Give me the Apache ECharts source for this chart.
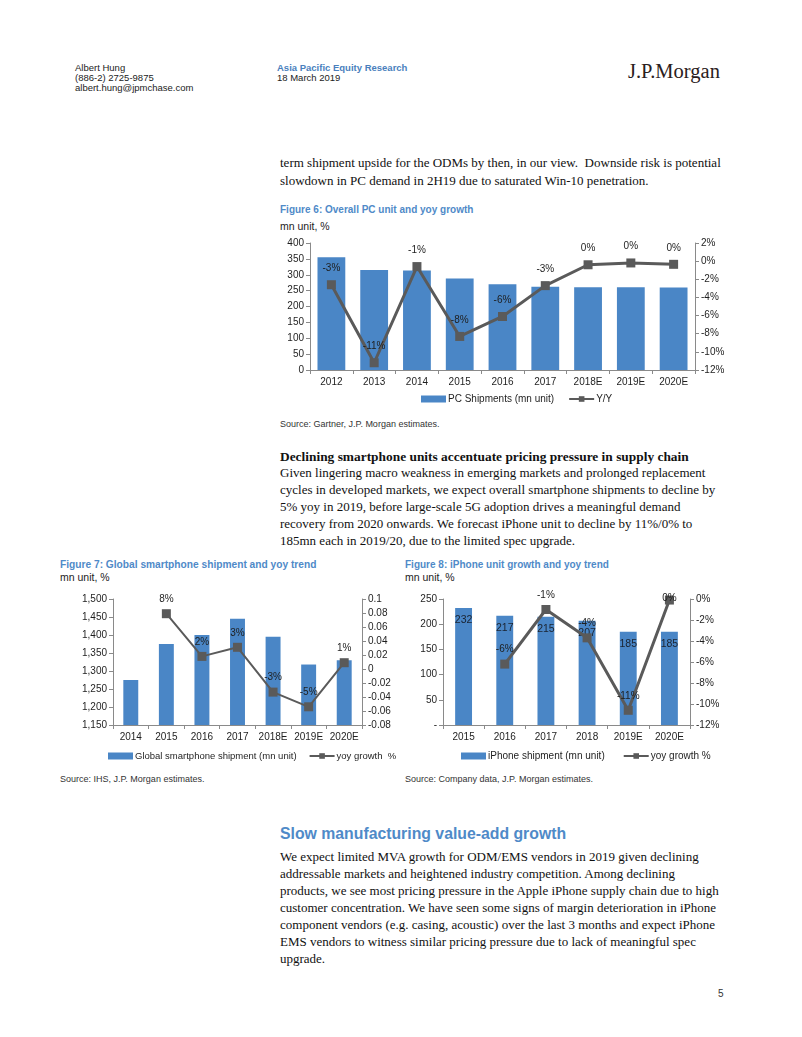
<!DOCTYPE html>
<html><head><meta charset="utf-8">
<script src="https://cdn.jsdelivr.net/npm/echarts@6/dist/echarts.min.js"></script>
<style>
html,body{margin:0;padding:0;background:#fff;}
body{width:802px;height:1037px;position:relative;overflow:hidden;font-family:"Liberation Sans",Arial,sans-serif;}
.t{position:absolute;white-space:nowrap;line-height:1;}
.hd{font-size:9.5px;color:#222;}
.blue{color:#4a7fbd;}
.serif{font-family:"Liberation Serif","Times New Roman",serif;font-size:13px;color:#111;}
.ft{font-size:10px;font-weight:bold;color:#4f8ac8;}
.mu{font-size:10.5px;color:#222;}
.src{font-size:9px;color:#333;}
.chart{position:absolute;}
</style></head><body>
<div class="t hd" style="left:75px;top:63px">Albert Hung</div>
<div class="t hd" style="left:75px;top:73px">(886-2) 2725-9875</div>
<div class="t hd" style="left:75px;top:83px">albert.hung@jpmchase.com</div>
<div class="t hd blue" style="left:277px;top:63px;font-weight:bold">Asia Pacific Equity Research</div>
<div class="t hd" style="left:277px;top:73px">18 March 2019</div>
<div class="t" style="left:628px;top:61px;font-family:'Liberation Serif',serif;font-size:20.5px;color:#2a2020">J.P.Morgan</div>

<div class="t serif" style="left:280px;top:156px">term shipment upside for the ODMs by then, in our view.&nbsp; Downside risk is potential</div>
<div class="t serif" style="left:280px;top:174px">slowdown in PC demand in 2H19 due to saturated Win-10 penetration.</div>

<div class="t ft" style="left:280px;top:205px">Figure 6: Overall PC unit and yoy growth</div>
<div class="t mu" style="left:280px;top:221px">mn unit, %</div>
<div id="c6" class="chart" style="left:270px;top:228px;width:460px;height:187px"></div>
<div class="t src" style="left:280px;top:420px">Source: Gartner, J.P. Morgan estimates.</div>

<div class="t serif" style="left:280px;top:450px;font-weight:bold;font-size:13.4px">Declining smartphone units accentuate pricing pressure in supply chain</div>
<div class="t serif" style="left:280px;top:466px">Given lingering macro weakness in emerging markets and prolonged replacement</div>
<div class="t serif" style="left:280px;top:483px">cycles in developed markets, we expect overall smartphone shipments to decline by</div>
<div class="t serif" style="left:280px;top:500px">5% yoy in 2019, before large-scale 5G adoption drives a meaningful demand</div>
<div class="t serif" style="left:280px;top:517px">recovery from 2020 onwards. We forecast iPhone unit to decline by 11%/0% to</div>
<div class="t serif" style="left:280px;top:534px">185mn each in 2019/20, due to the limited spec upgrade.</div>

<div class="t ft" style="left:60px;top:560px;font-size:10.2px">Figure 7: Global smartphone shipment and yoy trend</div>
<div class="t mu" style="left:60px;top:572px">mn unit, %</div>
<div id="c7" class="chart" style="left:60px;top:582px;width:340px;height:183px"></div>
<div class="t src" style="left:60px;top:775px">Source: IHS, J.P. Morgan estimates.</div>

<div class="t ft" style="left:405px;top:560px">Figure 8: iPhone unit growth and yoy trend</div>
<div class="t mu" style="left:405px;top:572px">mn unit, %</div>
<div id="c8" class="chart" style="left:400px;top:582px;width:340px;height:183px"></div>
<div class="t src" style="left:405px;top:775px">Source: Company data, J.P. Morgan estimates.</div>

<div class="t" style="left:280px;top:826px;font-size:15.8px;font-weight:bold;color:#4f8ac8">Slow manufacturing value-add growth</div>
<div class="t serif" style="left:280px;top:850px">We expect limited MVA growth for ODM/EMS vendors in 2019 given declining</div>
<div class="t serif" style="left:280px;top:867px">addressable markets and heightened industry competition. Among declining</div>
<div class="t serif" style="left:280px;top:884px">products, we see most pricing pressure in the Apple iPhone supply chain due to high</div>
<div class="t serif" style="left:280px;top:901px">customer concentration. We have seen some signs of margin deterioration in iPhone</div>
<div class="t serif" style="left:280px;top:918px">component vendors (e.g. casing, acoustic) over the last 3 months and expect iPhone</div>
<div class="t serif" style="left:280px;top:935px">EMS vendors to witness similar pricing pressure due to lack of meaningful spec</div>
<div class="t serif" style="left:280px;top:952px">upgrade.</div>
<div class="t" style="left:718px;top:989px;font-size:10px;color:#333">5</div>

<script>
// Figure 6
const pcYears = ['2012','2013','2014','2015','2016','2017','2018E','2019E','2020E'];
const pcShipments = [355, 315, 313, 288, 270, 262, 261, 261, 260];
const pcYoY = [-2.6, -11.2, -0.6, -8.3, -6.1, -2.7, -0.4, -0.2, -0.35];
const pcLeftTicks = {min: 0, max: 400, interval: 50};
const pcRightTicks = {min: -12, max: 2, interval: 2};

// Figure 7
const spYears = ['2014','2015','2016','2017','2018E','2019E','2020E'];
const spShipments = [1275, 1375, 1400, 1445, 1395, 1318, 1330];
const spYoY = [null, 0.079, 0.018, 0.031, -0.033, -0.054, 0.009];
const spLeftTicks = {min: 1150, max: 1500, interval: 50};
const spRightTicks = {min: -0.08, max: 0.1, interval: 0.02};

// Figure 8
const ipYears = ['2015','2016','2017','2018','2019E','2020E'];
const ipShipments = [232, 217, 215, 207, 185, 185];
const ipYoY = [null, -6.2, -1.0, -3.7, -10.6, -0.1];
const ipLeftTicks = {min: 0, max: 250, interval: 50};
const ipRightTicks = {min: -12, max: 0, interval: 2};

const BAR = '#4a86c6';
const LINE = '#5a5a5a';
const FONT = 'Liberation Sans';
const TXT = '#1e1e1e';
const AX = '#8a8a8a';
const FS = 10;

function pct(v){ const r = Math.round(v); return (r === 0 ? 0 : r) + '%'; }

function axisY(cfg, pos, fmt){
  return {
    type: 'value', position: pos, min: cfg.min, max: cfg.max, interval: cfg.interval,
    axisLine: {show: true, lineStyle: {color: AX, width: 1}},
    axisTick: {show: true, length: 4, lineStyle: {color: AX}},
    splitLine: {show: false},
    axisLabel: {color: TXT, fontFamily: FONT, fontSize: FS, margin: 6, formatter: fmt}
  };
}
function axisX(cats){
  return {
    type: 'category', data: cats, boundaryGap: true,
    axisLine: {onZero: false, lineStyle: {color: AX}},
    axisTick: {show: true, length: 4, alignWithLabel: false, lineStyle: {color: AX}},
    axisLabel: {color: TXT, fontFamily: FONT, fontSize: FS, margin: 7, interval: 0}
  };
}

function build(el, o){
  const ch = echarts.init(document.getElementById(el), null, {renderer: 'canvas'});
  const lineData = o.line.map((v, i) => (o.insideIdx && o.insideIdx.indexOf(i) >= 0)
    ? {value: v, label: {position: 'inside', offset: [0, -2]}} : v);
  const option = {
    animation: false,
    textStyle: {fontFamily: FONT},
    grid: o.grid,
    legend: {
      left: o.legendLeft, top: o.legendTop, width: 400, itemWidth: 25, itemHeight: 7, itemGap: o.legendGap,
      textStyle: {color: TXT, fontFamily: FONT, fontSize: o.legendFS, padding: [0,0,0,-3]},
      data: [{name: o.barName, icon: 'rect'}, {name: o.lineName}]
    },
    xAxis: axisX(o.cats),
    yAxis: [axisY(o.left, 'left', o.leftFmt), axisY(o.right, 'right', o.rightFmt)],
    series: [
      {
        name: o.barName, type: 'bar', data: o.bars, barWidth: o.barWidth, yAxisIndex: 0,
        itemStyle: {color: BAR},
        label: o.barLabel ? {show: true, position: 'insideTop', distance: 7, color: '#1a2330', fontSize: 10.5, fontFamily: FONT} : {show: false}
      },
      {
        name: o.lineName, type: 'line', data: lineData, yAxisIndex: 1,
        symbol: 'rect', symbolSize: 9, connectNulls: false,
        lineStyle: {color: LINE, width: o.lineWidth}, itemStyle: {color: LINE},
        label: {show: true, position: 'top', distance: o.labelDist, color: TXT, fontSize: FS, fontFamily: FONT, formatter: o.lineLabel}
      }
    ]
  };
  ch.setOption(option);
}

build('c6', {
  cats: pcYears, bars: pcShipments, line: pcYoY,
  barName: 'PC Shipments (mn unit)', lineName: 'Y/Y',
  grid: {left: 40, right: 35, top: 15, bottom: 45},
  left: pcLeftTicks, right: pcRightTicks,
  leftFmt: v => String(v), rightFmt: v => v + '%',
  barWidth: '65%', lineWidth: 3, barLabel: false, labelDist: 7,
  lineLabel: p => pct(p.value),
  legendLeft: 146, legendTop: 161, legendGap: 14, legendFS: 10
});

build('c7', {
  cats: spYears, bars: spShipments, line: spYoY,
  barName: 'Global smartphone shipment (mn unit)', lineName: 'yoy growth  %',
  grid: {left: 53, right: 38, top: 17, bottom: 40},
  left: spLeftTicks, right: spRightTicks,
  leftFmt: v => v.toLocaleString('en-US'), rightFmt: v => String(Math.round(v*100)/100),
  barWidth: '42%', lineWidth: 2, barLabel: false, labelDist: 5,
  lineLabel: p => pct(p.value * 100),
  legendLeft: 43, legendTop: 164, legendGap: 12, legendFS: 9.5
});

build('c8', {
  cats: ipYears, bars: ipShipments, line: ipYoY, insideIdx: [5],
  barName: 'iPhone shipment (mn unit)', lineName: 'yoy growth %',
  grid: {left: 43, right: 50, top: 17, bottom: 40},
  left: ipLeftTicks, right: ipRightTicks,
  leftFmt: v => v === 0 ? '-' : String(v), rightFmt: v => v + '%',
  barWidth: '41%', lineWidth: 3, barLabel: true, labelDist: 5,
  lineLabel: p => pct(p.value),
  legendLeft: 56, legendTop: 164, legendGap: 18, legendFS: 10
});
</script>
</body></html>
